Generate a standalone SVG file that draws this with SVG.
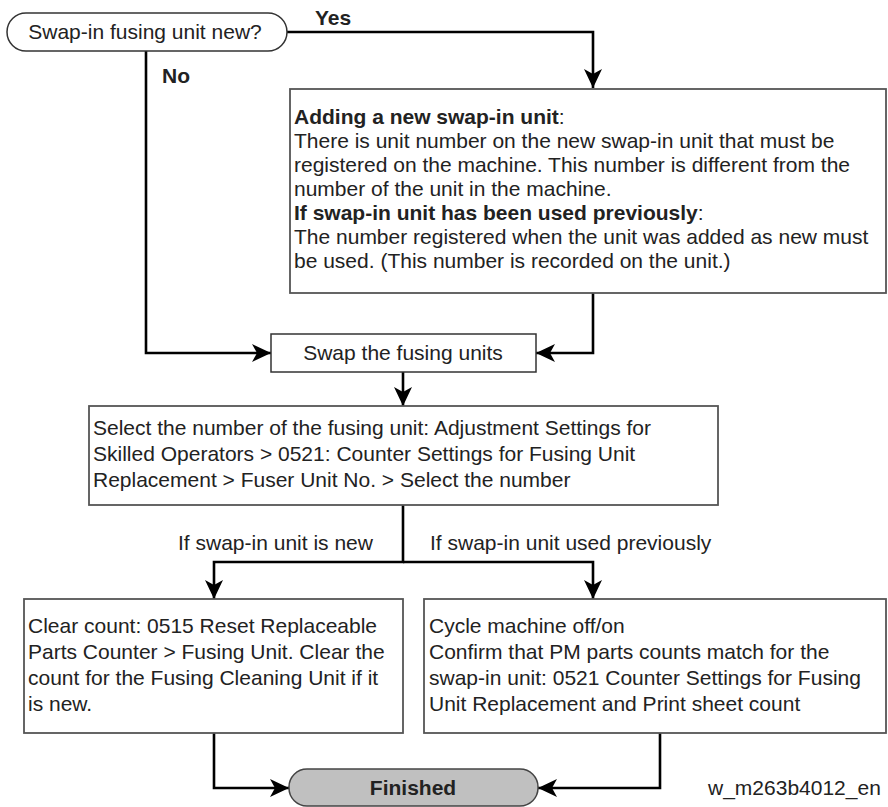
<svg xmlns="http://www.w3.org/2000/svg" width="888" height="807" viewBox="0 0 888 807">
  <style>
    text { font-family: "Liberation Sans", Arial, sans-serif; font-size: 21px; fill: #222; }
    .b { font-weight: bold; }
    .mid { text-anchor: middle; }
    .box { fill: #fff; stroke: #555; stroke-width: 1.8; }
    .term { fill: #fff; stroke: #333; stroke-width: 1.5; }
    .end { fill: #c0c0c0; stroke: #444; stroke-width: 1.5; }
    .wire { fill: none; stroke: #000; stroke-width: 2.6; }
  </style>
  <defs>
    <marker id="arrow" markerUnits="userSpaceOnUse" markerWidth="20" markerHeight="20" viewBox="0 0 20 20" refX="19" refY="10" orient="auto">
      <path d="M0,1 L19,10 L0,19 L5,10 Z" fill="#000"/>
    </marker>
  </defs>

  <g id="connectors">
    <path class="wire" d="M287,32 H593 V88" marker-end="url(#arrow)"/>
    <path class="wire" d="M146,51 V353 H271" marker-end="url(#arrow)"/>
    <path class="wire" d="M593,293 V353 H536" marker-end="url(#arrow)"/>
    <path class="wire" d="M403,372 V406" marker-end="url(#arrow)"/>
    <path class="wire" d="M403,505 V562 H214 V599" marker-end="url(#arrow)"/>
    <path class="wire" d="M403,562 H593 V599" marker-end="url(#arrow)"/>
    <path class="wire" d="M214,733 V788 H289" marker-end="url(#arrow)"/>
    <path class="wire" d="M660,733 V788 H538" marker-end="url(#arrow)"/>
    <text class="b" x="315" y="25">Yes</text>
    <text class="b" x="162" y="83">No</text>
    <text x="178" y="550">If swap-in unit is new</text>
    <text x="430" y="550">If swap-in unit used previously</text>
  </g>

  <g id="start">
    <rect class="term" x="7" y="13" width="280" height="38" rx="19" ry="19"/>
    <text class="mid" x="145" y="39">Swap-in fusing unit new?</text>
  </g>

  <g id="new-unit-note">
    <rect class="box" x="290" y="89" width="596" height="204"/>
    <text x="294" y="124"><tspan class="b">Adding a new swap-in unit</tspan>:</text>
    <text x="294" y="148">There is unit number on the new swap-in unit that must be</text>
    <text x="294" y="172">registered on the machine. This number is different from the</text>
    <text x="294" y="196">number of the unit in the machine.</text>
    <text x="294" y="220"><tspan class="b">If swap-in unit has been used previously</tspan>:</text>
    <text x="294" y="244">The number registered when the unit was added as new must</text>
    <text x="294" y="268">be used. (This number is recorded on the unit.)</text>
  </g>

  <g id="swap">
    <rect class="term" x="271" y="334" width="265" height="38"/>
    <text class="mid" x="403" y="360">Swap the fusing units</text>
  </g>

  <g id="select-number">
    <rect class="box" x="89" y="406" width="629" height="99"/>
    <text x="93" y="435">Select the number of the fusing unit: Adjustment Settings for</text>
    <text x="93" y="461">Skilled Operators &gt; 0521: Counter Settings for Fusing Unit</text>
    <text x="93" y="487">Replacement &gt; Fuser Unit No. &gt; Select the number</text>
  </g>

  <g id="clear-count">
    <rect class="box" x="24" y="599" width="379" height="134"/>
    <text x="28" y="633">Clear count: 0515 Reset Replaceable</text>
    <text x="28" y="659">Parts Counter &gt; Fusing Unit. Clear the</text>
    <text x="28" y="685">count for the Fusing Cleaning Unit if it</text>
    <text x="28" y="711">is new.</text>
  </g>

  <g id="cycle-machine">
    <rect class="box" x="424" y="599" width="462" height="134"/>
    <text x="429" y="633">Cycle machine off/on</text>
    <text x="429" y="659">Confirm that PM parts counts match for the</text>
    <text x="429" y="685">swap-in unit: 0521 Counter Settings for Fusing</text>
    <text x="429" y="711">Unit Replacement and Print sheet count</text>
  </g>

  <g id="finished">
    <rect class="end" x="289" y="769" width="249" height="37" rx="18" ry="18"/>
    <text class="mid b" x="413" y="795">Finished</text>
  </g>

  <text x="708" y="795">w_m263b4012_en</text>
</svg>
